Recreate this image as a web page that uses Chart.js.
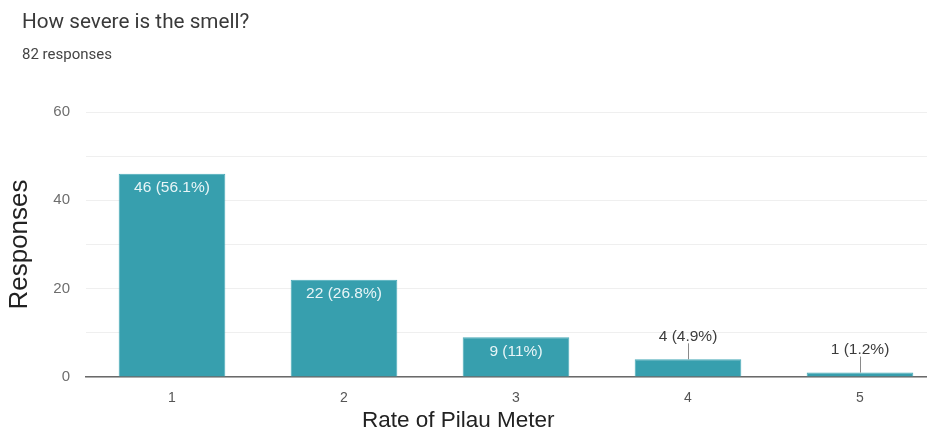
<!DOCTYPE html>
<html>
<head>
<meta charset="utf-8">
<script src="https://cdn.jsdelivr.net/npm/chart.js@4.4.0/dist/chart.umd.min.js"></script>
<style>
  html, body { margin: 0; padding: 0; background: #fff; overflow: hidden; width: 927px; height: 434px; }
  #wrap { position: relative; width: 927px; height: 434px; overflow: hidden; }
  #title { position: absolute; left: 22px; top: 9px; font: 20.7px Roboto, "Liberation Sans", sans-serif; color: #3a3a3a; }
  #sub { position: absolute; left: 22px; top: 45px; font: 15px Roboto, "Liberation Sans", sans-serif; color: #444; }
  #xtitle { position: absolute; left: 362px; top: 407px; font: 22.5px "Liberation Sans", Arial, sans-serif; color: #222; white-space: nowrap; }
  canvas { position: absolute; left: 0; top: 0; }
</style>
</head>
<body>
<div id="wrap">
  <canvas id="barChart" width="946" height="434"></canvas>
  <div id="title">How severe is the smell?</div>
  <div id="sub">82 responses</div>
  <div id="xtitle">Rate of Pilau Meter</div>
</div>
<script>
var categories = ["1", "2", "3", "4", "5"];
var responses = [46, 22, 9, 4, 1];
var percents = ["56.1%", "26.8%", "11%", "4.9%", "1.2%"];
var yTicks = [0, 20, 40, 60];

// labels on the bars, inside when there is room, above with a little line otherwise
var barLabels = {
  id: 'barLabels',
  afterDatasetsDraw: function (chart) {
    var ctx = chart.ctx;
    var meta = chart.getDatasetMeta(0);
    ctx.save();
    ctx.font = '15.5px "Liberation Sans", Arial, sans-serif';
    ctx.textAlign = 'center';
    ctx.textBaseline = 'middle';
    for (var i = 0; i < meta.data.length; i++) {
      var bar = meta.data[i];
      var txt = responses[i] + ' (' + percents[i] + ')';
      var h = bar.base - bar.y;
      if (h > 28) {
        ctx.fillStyle = '#e8f5f7';
        ctx.fillText(txt, bar.x, bar.y + 14);
      } else {
        ctx.strokeStyle = '#8a8a8a';
        ctx.lineWidth = 1;
        ctx.beginPath();
        ctx.moveTo(bar.x + 0.5, bar.y);
        ctx.lineTo(bar.x + 0.5, bar.y - 16);
        ctx.stroke();
        ctx.fillStyle = '#3c3c3c';
        ctx.fillText(txt, bar.x, bar.y - 23);
      }
    }
    ctx.restore();
  }
};

var chartDiv = document.getElementById('barChart');
var myChart = new Chart(chartDiv, {
  type: 'bar',
  data: {
    labels: categories,
    datasets: [{
      data: responses,
      backgroundColor: '#379fae',
      borderColor: '#4aabb9',
      borderWidth: 1,
      barPercentage: 0.62,
      categoryPercentage: 1
    }]
  },
  options: {
    responsive: false,
    animation: false,
    layout: { padding: { top: 112, left: 0, right: 0, bottom: 0 } },
    plugins: {
      legend: { display: false },
      tooltip: { enabled: false }
    },
    scales: {
      x: {
        grid: { display: false, drawTicks: false },
        border: { display: true, color: '#6a6a6a', width: 1.5 },
        ticks: { color: '#555', padding: 13, font: { size: 14, family: '"Liberation Sans", Arial, sans-serif' } },
        afterFit: function (scale) { scale.height = 57; }
      },
      y: {
        min: 0,
        max: 60,
        grid: { color: '#efefef', drawTicks: false },
        border: { display: false },
        ticks: {
          stepSize: 10,
          padding: 16,
          color: '#6e6e6e',
          font: { size: 15, family: '"Liberation Sans", Arial, sans-serif' },
          callback: function (v) { return yTicks.indexOf(v) >= 0 ? v : ''; }
        },
        title: {
          display: true,
          text: 'Responses',
          color: '#222',
          padding: { top: 4, bottom: 0 },
          font: { size: 26, family: '"Liberation Sans", Arial, sans-serif' }
        },
        afterFit: function (scale) { scale.width = 86; }
      }
    }
  },
  plugins: [barLabels]
});
</script>
</body>
</html>
